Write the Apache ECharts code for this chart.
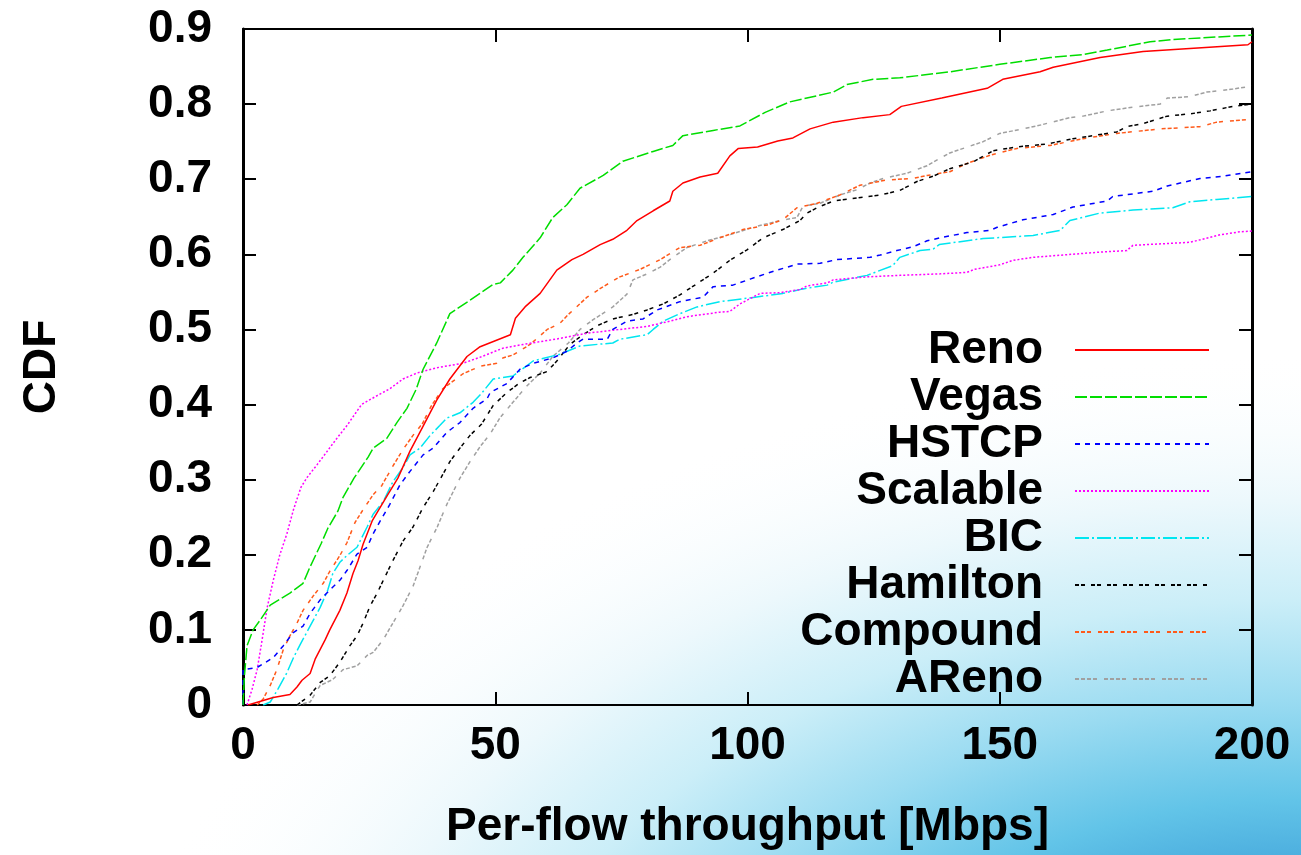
<!DOCTYPE html>
<html><head><meta charset="utf-8">
<script src="https://cdn.jsdelivr.net/npm/echarts@6/dist/echarts.min.js"></script>
<style>html,body{margin:0;padding:0;background:#fff}#c{width:1301px;height:855px}</style>
</head><body><div id="c"></div>
<script>
const seriesNames = ['Reno','Vegas','HSTCP','Scalable','BIC','Hamilton','Compound','AReno'];
const xTicks = [0,50,100,150,200];
const yTicks = [0,0.1,0.2,0.3,0.4,0.5,0.6,0.7,0.8,0.9];

const reno = [[1,0],[3,0.004],[6,0.01],[9.3,0.014],[10.7,0.024],[11.7,0.033],[13.3,0.042],[14.3,0.061],[16.3,0.087],[17.2,0.1],[19.2,0.126],[20.6,0.149],[21.8,0.175],[22.8,0.192],[23.8,0.214],[25.6,0.245],[28.7,0.28],[30.7,0.302],[33.1,0.338],[35.6,0.37],[38.4,0.406],[41,0.434],[44.4,0.464],[47,0.477],[50,0.485],[53,0.493],[54,0.515],[55.9,0.53],[58.9,0.548],[62.2,0.579],[65.2,0.593],[67.4,0.6],[70.8,0.613],[73.3,0.62],[76.1,0.632],[78.1,0.645],[81.3,0.658],[84.6,0.671],[85.2,0.684],[87.2,0.695],[90.6,0.703],[94.1,0.708],[96.5,0.731],[98.2,0.741],[102,0.743],[106,0.751],[109,0.755],[112.4,0.767],[117,0.776],[122.9,0.782],[128.2,0.786],[130.5,0.797],[138.5,0.808],[147.5,0.821],[150.6,0.833],[158,0.843],[160.6,0.849],[169.9,0.862],[178.4,0.87],[190,0.875],[199.2,0.879],[200,0.883]];
const vegas = [[0,0],[0.3,0.04],[0.8,0.079],[2,0.1],[3.4,0.113],[5.4,0.133],[9.3,0.149],[11.9,0.162],[13.3,0.184],[15.5,0.215],[16.8,0.235],[18.8,0.258],[19.8,0.276],[22,0.302],[24.8,0.33],[25.8,0.342],[28.5,0.355],[30.5,0.376],[32.5,0.395],[34.3,0.42],[35.7,0.447],[38.4,0.482],[41,0.521],[45,0.539],[49.6,0.56],[51,0.562],[53.5,0.579],[55.5,0.596],[58.9,0.622],[61.4,0.649],[64.2,0.666],[66.8,0.688],[71.4,0.705],[75.3,0.724],[81.3,0.737],[85.2,0.745],[87.2,0.758],[93.2,0.765],[98.5,0.771],[103.5,0.789],[108.4,0.803],[117,0.816],[119.7,0.826],[124.9,0.833],[130.2,0.835],[140.1,0.843],[150,0.853],[160,0.862],[166.5,0.866],[171.3,0.872],[179.8,0.883],[184.3,0.886],[200,0.892]];
const hstcp = [[0,0],[0,0.047],[2.8,0.05],[6,0.063],[8,0.079],[9.9,0.096],[11.9,0.105],[13.3,0.122],[15.3,0.14],[17.2,0.153],[19.2,0.166],[20.6,0.179],[22.6,0.201],[24.6,0.21],[25.8,0.228],[27.2,0.245],[29.1,0.267],[31.1,0.293],[33.1,0.311],[35.7,0.333],[37.7,0.342],[40.4,0.363],[43,0.376],[45.6,0.395],[48.4,0.408],[49,0.416],[52.3,0.428],[54.9,0.447],[57.5,0.455],[61.4,0.462],[64.2,0.471],[66.2,0.482],[67.4,0.487],[72.2,0.487],[73.3,0.5],[76.1,0.511],[79.3,0.514],[82.1,0.526],[86.6,0.537],[91.2,0.543],[93.2,0.557],[97.1,0.559],[100.5,0.567],[105.8,0.579],[108,0.583],[109.8,0.587],[114.4,0.588],[117.7,0.593],[124.3,0.596],[126.3,0.599],[129.6,0.605],[132.8,0.61],[135.6,0.618],[138.2,0.622],[143.5,0.629],[148.1,0.632],[149.5,0.636],[154.6,0.646],[160.6,0.653],[164.5,0.663],[171.3,0.671],[172.4,0.677],[180.4,0.684],[183.2,0.691],[189.7,0.701],[194.3,0.704],[200,0.71]];
const scalable = [[0.8,0],[1.8,0.021],[2.8,0.047],[3.6,0.079],[4.8,0.13],[6,0.166],[7.3,0.2],[8.7,0.228],[10,0.26],[11.5,0.29],[12.7,0.303],[14.7,0.32],[16.6,0.337],[18.6,0.355],[20.6,0.372],[23.5,0.4],[26.6,0.412],[29.1,0.421],[31.7,0.434],[34.5,0.442],[38.4,0.449],[43.6,0.455],[47.4,0.464],[51.5,0.475],[55.5,0.48],[62.8,0.488],[68.2,0.495],[74.7,0.5],[80.1,0.504],[84.6,0.511],[88,0.517],[94.5,0.523],[96.5,0.524],[98.5,0.534],[100.5,0.541],[102.5,0.548],[106.4,0.549],[110.4,0.553],[111.8,0.558],[115.8,0.562],[117,0.566],[123.7,0.57],[130.2,0.572],[138.2,0.574],[143.5,0.576],[145,0.58],[150,0.586],[152.6,0.592],[156.6,0.596],[169.9,0.603],[175.2,0.605],[176.4,0.612],[187.7,0.616],[193.7,0.626],[197.6,0.63],[200,0.631]];
const bic = [[4,0],[5.4,0.004],[7,0.022],[8.7,0.043],[10,0.063],[11.3,0.08],[13.3,0.105],[15.3,0.13],[16.8,0.153],[17.8,0.175],[19.2,0.19],[20.6,0.199],[22.6,0.21],[24.6,0.237],[25.8,0.254],[27.8,0.271],[29.7,0.297],[31.7,0.316],[33.1,0.333],[35.1,0.342],[37.1,0.359],[39,0.372],[40.4,0.382],[43,0.389],[45.6,0.403],[47.3,0.415],[49.6,0.434],[53.5,0.438],[57.5,0.458],[62.8,0.467],[66.8,0.478],[73.3,0.482],[74.7,0.487],[80.1,0.493],[81.3,0.5],[83.3,0.511],[86.6,0.521],[90,0.53],[94.5,0.537],[100.5,0.542],[107,0.548],[111,0.554],[115.8,0.559],[117,0.563],[123.7,0.572],[128.8,0.585],[130.2,0.596],[134.2,0.605],[136.8,0.607],[138,0.613],[146.7,0.621],[156.6,0.625],[162,0.632],[163.9,0.645],[169.9,0.655],[176.4,0.659],[184.3,0.662],[187.7,0.67],[193,0.673],[200,0.677]];
const hamilton = [[10.7,0],[13.3,0.013],[15.3,0.03],[17.2,0.039],[19.2,0.057],[21.2,0.079],[22.6,0.092],[23.8,0.109],[25.2,0.132],[26.6,0.149],[27.8,0.166],[29.7,0.192],[31.7,0.218],[33.7,0.237],[35.7,0.263],[37.7,0.284],[39.6,0.307],[41,0.324],[43,0.342],[45,0.359],[47.3,0.374],[49.6,0.399],[52.3,0.416],[54.9,0.429],[56.9,0.436],[60.3,0.444],[62.2,0.458],[64.8,0.48],[67.4,0.493],[70.2,0.505],[73.3,0.514],[77.3,0.52],[80.1,0.526],[83.3,0.534],[86.6,0.546],[90,0.561],[93.2,0.575],[96.5,0.592],[99.9,0.606],[103.1,0.622],[107,0.633],[110.4,0.645],[111.8,0.655],[113.8,0.662],[117,0.671],[121.7,0.675],[126.3,0.679],[130.2,0.685],[133.6,0.697],[136.8,0.704],[140.1,0.714],[144.7,0.723],[148.7,0.738],[153.4,0.743],[159.4,0.747],[164.5,0.754],[168.5,0.758],[173.2,0.763],[175.2,0.77],[178.4,0.774],[183.2,0.784],[187.7,0.787],[191.7,0.791],[196.2,0.797],[200,0.8]];
const compound = [[2.8,0],[4,0.008],[5.4,0.026],[6.7,0.047],[8,0.074],[9.3,0.092],[10.7,0.109],[11.9,0.126],[13.9,0.145],[15.9,0.162],[17.2,0.178],[19.2,0.199],[20.6,0.216],[22.2,0.243],[23.8,0.26],[25.8,0.28],[27.5,0.292],[29.7,0.318],[31.7,0.34],[33.7,0.359],[35.6,0.375],[37.3,0.398],[39.6,0.421],[43.6,0.441],[47,0.451],[50.3,0.455],[51.5,0.462],[53.5,0.466],[56.9,0.48],[60.3,0.5],[62.8,0.508],[64.5,0.52],[68.2,0.543],[71.4,0.557],[74.7,0.57],[78.7,0.58],[82.7,0.593],[86.6,0.609],[90.6,0.612],[94.5,0.622],[99.1,0.633],[103.9,0.639],[107,0.646],[109.8,0.662],[113.8,0.668],[118.3,0.679],[122.3,0.692],[127.6,0.699],[132.8,0.701],[135.6,0.705],[140.1,0.71],[143.5,0.721],[148.1,0.732],[153.4,0.741],[160,0.745],[166.5,0.754],[173.2,0.761],[181.8,0.767],[189.7,0.77],[193,0.776],[200,0.78]];
const areno = [[10.7,0],[13.3,0.004],[15.3,0.026],[17.8,0.034],[19.8,0.047],[22.6,0.052],[24.6,0.066],[25.8,0.07],[27.8,0.087],[29.7,0.109],[31.7,0.132],[33.7,0.158],[35.1,0.184],[36.5,0.21],[38.5,0.237],[40.4,0.267],[43,0.302],[45,0.324],[47,0.344],[49,0.361],[50.9,0.382],[53.5,0.403],[56.3,0.425],[58.9,0.442],[61.4,0.464],[64.5,0.482],[66.8,0.5],[69.4,0.513],[73.3,0.53],[76.1,0.547],[77.3,0.566],[80.1,0.574],[82.7,0.583],[85.2,0.596],[88,0.609],[92,0.618],[96,0.625],[101.1,0.636],[106.4,0.645],[109.8,0.649],[111,0.664],[114.4,0.668],[118.3,0.679],[121.7,0.686],[124.3,0.695],[126.9,0.701],[131.6,0.708],[135.6,0.718],[138.2,0.728],[140.1,0.735],[146.7,0.75],[150,0.761],[154.6,0.767],[157.4,0.771],[163.9,0.782],[166.5,0.784],[171.3,0.791],[176.4,0.796],[181.8,0.8],[183.2,0.808],[187.7,0.81],[191,0.816],[196.2,0.82],[200,0.824]];

const seriesData = [reno, vegas, hstcp, scalable, bic, hamilton, compound, areno];
const colors = ['#ff0000','#00dd00','#0000ff','#ff00ff','#00e6f0','#000000','#ff5a1a','#a0a0a0'];
const dashes = ['solid',[12,3],[5,5],[2,2],[14,3,2,3],[4,2,4,6],[4,2,4,2,4,7],[4,2,4,2,4,2,4,7]];

const FONT = "'Liberation Sans', Arial, Helvetica, sans-serif";
const txt = {fontFamily: FONT, fontSize: 46, fontWeight: 'bold', color: '#000'};

const chart = echarts.init(document.getElementById('c'), null, {renderer: 'canvas'});

// decorative background glow (elliptical, stretched horizontally)
const SX = 1.6;
const bg = new echarts.graphic.RadialGradient(0, 245, 1000, [
  {offset: 0, color: '#2a7cc4'},
  {offset: 0.2, color: '#3d9fd8'},
  {offset: 0.3, color: '#62c4e8'},
  {offset: 0.4, color: '#9adbf1'},
  {offset: 0.5, color: '#cbeef8'},
  {offset: 0.6, color: '#ecf8fc'},
  {offset: 0.75, color: 'rgba(255,255,255,0)'}
], true);

const axisLineStyle = {color: '#000', width: 2};
const xMin = xTicks[0], xMax = xTicks[xTicks.length - 1], xInt = xTicks[1] - xTicks[0];
const yMin = yTicks[0], yMax = yTicks[yTicks.length - 1], yInt = 0.1;

const option = {
  animation: false,
  backgroundColor: '#ffffff',
  graphic: [{type: 'rect', z: -10, silent: true, x: 1301, y: 855, scaleX: SX,
    shape: {x: -1301 / SX - 10, y: -860, width: 1301 / SX + 20, height: 870}, style: {fill: bg}}],
  grid: {left: 243, right: 49, top: 29, bottom: 142, containLabel: false},
  legend: {
    orient: 'vertical', right: 86, top: 322, align: 'right',
    itemWidth: 134, itemHeight: 14, itemGap: 1,
    itemStyle: {opacity: 0},
    textStyle: Object.assign({}, txt, {lineHeight: 46, padding: [0, 27, 0, 0]}),
    data: seriesNames
  },
  xAxis: [
    {type: 'value', min: xMin, max: xMax, interval: xInt, position: 'bottom',
     axisLine: {show: true, onZero: false, lineStyle: axisLineStyle},
     axisTick: {show: true, inside: true, length: 13, lineStyle: axisLineStyle},
     axisLabel: Object.assign({margin: 18}, txt),
     splitLine: {show: false},
     name: 'Per-flow throughput [Mbps]', nameLocation: 'middle', nameGap: 99,
     nameTextStyle: txt},
    {type: 'value', min: xMin, max: xMax, interval: xInt, position: 'top',
     axisLine: {show: true, onZero: false, lineStyle: axisLineStyle},
     axisTick: {show: true, inside: true, length: 13, lineStyle: axisLineStyle},
     axisLabel: {show: false}, splitLine: {show: false}}
  ],
  yAxis: [
    {type: 'value', min: yMin, max: yMax, interval: yInt, position: 'left',
     axisLine: {show: true, onZero: false, lineStyle: {color: '#000', width: 3}},
     axisTick: {show: true, inside: true, length: 13, lineStyle: axisLineStyle},
     axisLabel: Object.assign({margin: 31, formatter: (v) => String(+v.toFixed(1))}, txt),
     splitLine: {show: false},
     name: 'CDF', nameLocation: 'middle', nameGap: 178, nameTextStyle: txt},
    {type: 'value', min: yMin, max: yMax, interval: yInt, position: 'right',
     axisLine: {show: true, onZero: false, lineStyle: {color: '#000', width: 3}},
     axisTick: {show: true, inside: true, length: 13, lineStyle: axisLineStyle},
     axisLabel: {show: false}, splitLine: {show: false}}
  ],
  series: seriesNames.map((n, i) => ({
    name: n, type: 'line', xAxisIndex: 0, yAxisIndex: 0,
    data: seriesData[i], symbol: 'none', showSymbol: false, smooth: false,
    lineStyle: {color: colors[i], width: 1.5, type: dashes[i]},
    itemStyle: {color: colors[i]},
    z: 10 - i
  }))
};
chart.setOption(option);
</script>
</body></html>
